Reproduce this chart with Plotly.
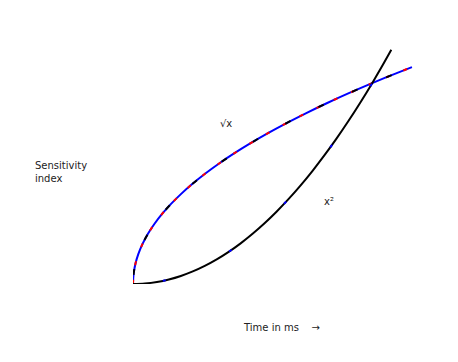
import plotly.graph_objects as go

# values (two curves mirrored about y = x)
upper_x = [0, 0.0025, 0.01, 0.0225, 0.04, 0.0625, 0.09, 0.1225, 0.16, 0.2025, 0.25, 0.3025,
           0.36, 0.4225, 0.49, 0.5625, 0.64, 0.7225, 0.81, 0.9025, 1.0, 1.0816, 1.1664]
upper_y = [0, 0.05, 0.1, 0.15, 0.2, 0.25, 0.3, 0.35, 0.4, 0.45, 0.5, 0.55,
           0.6, 0.65, 0.7, 0.75, 0.8, 0.85, 0.9, 0.95, 1.0, 1.04, 1.08]
lower_x = [0, 0.05, 0.1, 0.15, 0.2, 0.25, 0.3, 0.35, 0.4, 0.45, 0.5, 0.55,
           0.6, 0.65, 0.7, 0.75, 0.8, 0.85, 0.9, 0.95, 1.0, 1.04, 1.08]
lower_y = [0, 0.0025, 0.01, 0.0225, 0.04, 0.0625, 0.09, 0.1225, 0.16, 0.2025, 0.25, 0.3025,
           0.36, 0.4225, 0.49, 0.5625, 0.64, 0.7225, 0.81, 0.9025, 1.0, 1.0816, 1.1664]

fig = go.Figure()
# upper curve: blue line with red and black bits on top
fig.add_trace(go.Scatter(x=upper_x, y=upper_y, mode="lines", line=dict(color="blue", width=2, shape="spline")))
fig.add_trace(go.Scatter(x=upper_x, y=upper_y, mode="lines", line=dict(color="red", width=2, shape="spline", dash="4px,15px")))
fig.add_trace(go.Scatter(x=upper_x, y=upper_y, mode="lines", line=dict(color="black", width=2, shape="spline", dash="0px,9px,6px,22px")))
# lower curve: mostly black, some blue
fig.add_trace(go.Scatter(x=lower_x, y=lower_y, mode="lines", line=dict(color="black", width=2, shape="spline")))
fig.add_trace(go.Scatter(x=lower_x, y=lower_y, mode="lines", line=dict(color="blue", width=2, shape="spline", dash="0px,30px,3px,40px")))

txt = dict(family="DejaVu Sans", size=10, color="#222")
fig.add_annotation(x=0.39, y=0.80, text="√x", showarrow=False, font=txt)
fig.add_annotation(x=0.82, y=0.41, text="x²", showarrow=False, font=txt)
fig.add_annotation(xref="paper", yref="paper", x=-0.35, y=0.463, xanchor="left", align="left",
                   text="Sensitivity<br>index", showarrow=False, font=txt)
fig.add_annotation(xref="paper", yref="paper", x=0.516, y=-0.21, text="Time in ms    →",
                   showarrow=False, font=txt)

fig.update_xaxes(range=[0, 1.2], visible=False)
fig.update_yaxes(range=[0, 1.2], visible=False)
fig.update_layout(width=458, height=362, showlegend=False, plot_bgcolor="white", paper_bgcolor="white",
                  margin=dict(l=125, r=46, t=35, b=86))
fig.write_html("out.html")
